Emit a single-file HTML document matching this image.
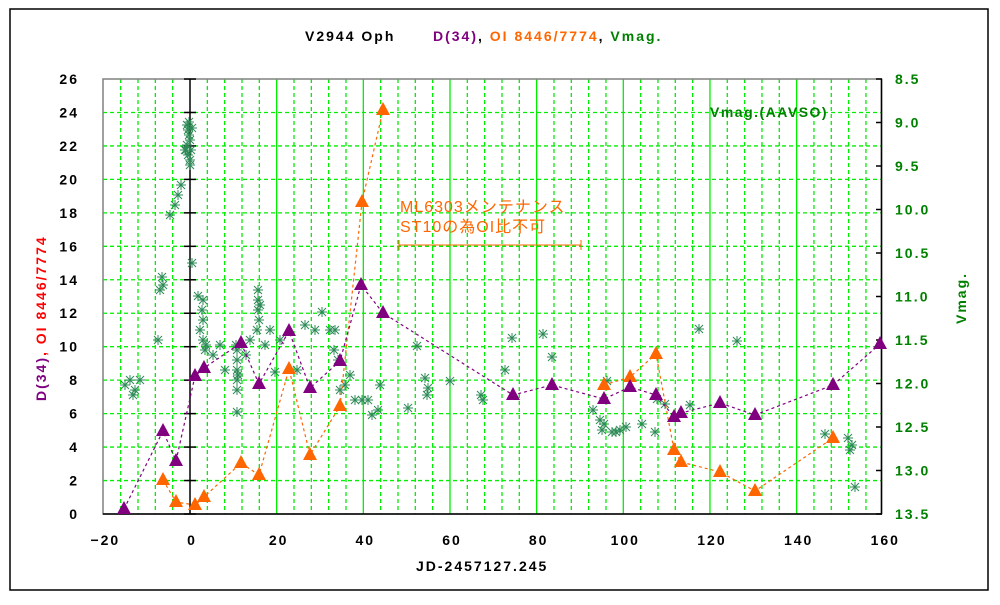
<!DOCTYPE html>
<html><head><meta charset="utf-8"><style>
html,body{margin:0;padding:0;background:#fff;}
svg text{font-family:"Liberation Sans","Noto Sans CJK JP",sans-serif;font-size:14px;letter-spacing:2px;font-weight:bold;}
svg text.ann{font-size:16px;letter-spacing:1px;font-weight:normal;}
</style></head><body>
<svg id="s" width="1000" height="600" xmlns="http://www.w3.org/2000/svg">
<rect x="10" y="9" width="978" height="581" fill="none" stroke="#000" stroke-width="1.5"/>
<g id="grid"></g>
<rect x="103" y="79" width="778.5" height="435" fill="none" stroke="#808080" stroke-width="1.5"/>
<line x1="103" y1="514" x2="882" y2="514" stroke="#000" stroke-width="1.5"/>
<line x1="190" y1="79" x2="190" y2="514" stroke="#000" stroke-width="1.5"/>
<line x1="881.5" y1="79" x2="881.5" y2="514" stroke="#000" stroke-width="1.5"/>
<g id="ticks"></g>
<g id="data"></g>
<text x="305" y="41" fill="#000">V2944 Oph</text>
<text x="433" y="41"><tspan fill="#800080">D(34)</tspan><tspan fill="#000">,</tspan><tspan fill="#ff6600"> OI 8446/7774</tspan><tspan fill="#000">,</tspan><tspan fill="#008000"> Vmag.</tspan></text>
<text x="416" y="571" fill="#000">JD-2457127.245</text>
<text x="710" y="117" fill="#008000" style="letter-spacing:1.5px">Vmag.(AAVSO)</text>
<text class="ann" x="400" y="212" fill="#ff6600">ML6303メンテナンス</text>
<text class="ann" x="400" y="232" fill="#ff6600">ST10の為OI比不可</text>
<line x1="399" y1="245" x2="581" y2="245" stroke="#ff6600"/>
<line x1="399" y1="240" x2="399" y2="250" stroke="#ff6600"/>
<line x1="581" y1="240" x2="581" y2="250" stroke="#ff6600"/>
<text transform="translate(46,401) rotate(-90)"><tspan fill="#800080">D(34)</tspan><tspan fill="#ff0000">, OI 8446/7774</tspan></text>
<text transform="translate(966,324) rotate(-90)" fill="#008000">Vmag.</text>
</svg>
<script>
var NS="http://www.w3.org/2000/svg";
function el(p,t,a,txt){var e=document.createElementNS(NS,t);for(var k in a)e.setAttribute(k,a[k]);if(txt!=null)e.textContent=txt;document.getElementById(p).appendChild(e);return e;}
function X(v){return 190+v*4.333;}
function Y(v){return 514-v*16.73;}
for(var v=-16;v<=156;v+=4){if(v==0)continue;var solid=(v%20==0);
el("grid","line",{x1:X(v),y1:79,x2:X(v),y2:514,stroke:"#00ee00","stroke-width":1.3,"stroke-dasharray":solid?"":"4,3"});}
for(var v=2;v<26;v+=2){el("grid","line",{x1:103,y1:Y(v),x2:881,y2:Y(v),stroke:"#00ee00","stroke-width":1.3,"stroke-dasharray":"4,3"});}
for(var v=0;v<=26;v+=2){el("ticks","line",{x1:184,y1:Y(v),x2:196,y2:Y(v),stroke:"#000","stroke-width":1.5});
el("ticks","text",{x:79,y:Y(v)+5,"text-anchor":"end",fill:"#000"},String(v));}
for(var v=-20;v<=160;v+=20){el("ticks","text",{x:X(v)+2,y:545,"text-anchor":"middle",fill:"#000"},v<0?"\u2212"+(-v):String(v));}
for(var i=0;i<=10;i++){var y=79+i*43.5;var m=(8.5+i*0.5).toFixed(1);
el("ticks","line",{x1:876,y1:y,x2:882,y2:y,stroke:"#000","stroke-width":1.5});
el("ticks","text",{x:895,y:y+5,fill:"#008000"},m);}
var G=[[187,125],[188,130],[189,135],[190,140],[187,145],[191,150],[188,155],[190,160],[186,150],[192,128],[189,122],[190,165],[185,150],[170,215],[175,205],[178,195],[181,185],[192,263],[162,277],[163,285],[160,290],[198,296],[203,300],[203,320],[203,340],[205,350],[200,330],[202,310],[206,345],[158,340],[125,385],[130,380],[135,390],[140,380],[133,395],[237,350],[237,360],[237,370],[237,380],[237,390],[236,345],[238,375],[237,412],[258,290],[258,300],[258,310],[259,320],[257,330],[260,305],[280,340],[270,330],[265,345],[275,372],[297,370],[305,325],[315,330],[322,312],[330,330],[335,330],[334,350],[338,360],[340,390],[345,385],[350,375],[355,400],[362,400],[368,400],[372,415],[378,410],[380,385],[408,408],[417,346],[425,378],[427,395],[428,388],[450,381],[481,395],[483,400],[505,370],[512,338],[543,334],[552,357],[593,410],[600,420],[604,424],[602,430],[607,381],[612,432],[616,432],[620,430],[626,427],[642,424],[655,432],[657,399],[665,404],[690,405],[699,329],[737,341],[825,434],[848,438],[850,450],[852,445],[855,487],[213,355],[220,345],[246,355],[250,340],[225,370]];
G.forEach(function(p){var x=p[0],y=p[1],r=5;
el("data","path",{d:"M"+(x-r)+" "+y+"H"+(x+r)+"M"+x+" "+(y-r)+"V"+(y+r)+"M"+(x-r+1)+" "+(y-r+1)+"L"+(x+r-1)+" "+(y+r-1)+"M"+(x-r+1)+" "+(y+r-1)+"L"+(x+r-1)+" "+(y-r+1),stroke:"#2e8b57","stroke-width":1,fill:"none"});});
function series(pts,col){var d="";pts.forEach(function(p,i){d+=(i?"L":"M")+p[0]+" "+p[1];});
el("data","path",{d:d,stroke:col,"stroke-width":1.2,fill:"none","stroke-dasharray":"3,3"});
pts.forEach(function(p){var x=p[0],y=p[1];el("data","path",{d:"M"+x+" "+(y-8)+"L"+(x+7)+" "+(y+5)+"L"+(x-7)+" "+(y+5)+"Z",fill:col});});}
series([[163,480],[176,502],[195,505],[204,497],[241,463],[259,475],[289,369],[310,455],[340,406],[362,202],[383,110]],"#ff6600");
series([[604,385],[630,377],[656,354],[674,450],[681,462],[720,472],[755,491],[833,438]],"#ff6600");
series([[124,509],[163,431],[176,461],[195,376],[204,368],[241,343],[259,384],[289,331],[310,388],[340,361],[361,285],[383,313],[513,395],[552,385],[604,399],[630,387],[656,395],[674,417],[681,413],[720,403],[755,415],[833,385],[880,344]],"#800080");
</script>
</body></html>
